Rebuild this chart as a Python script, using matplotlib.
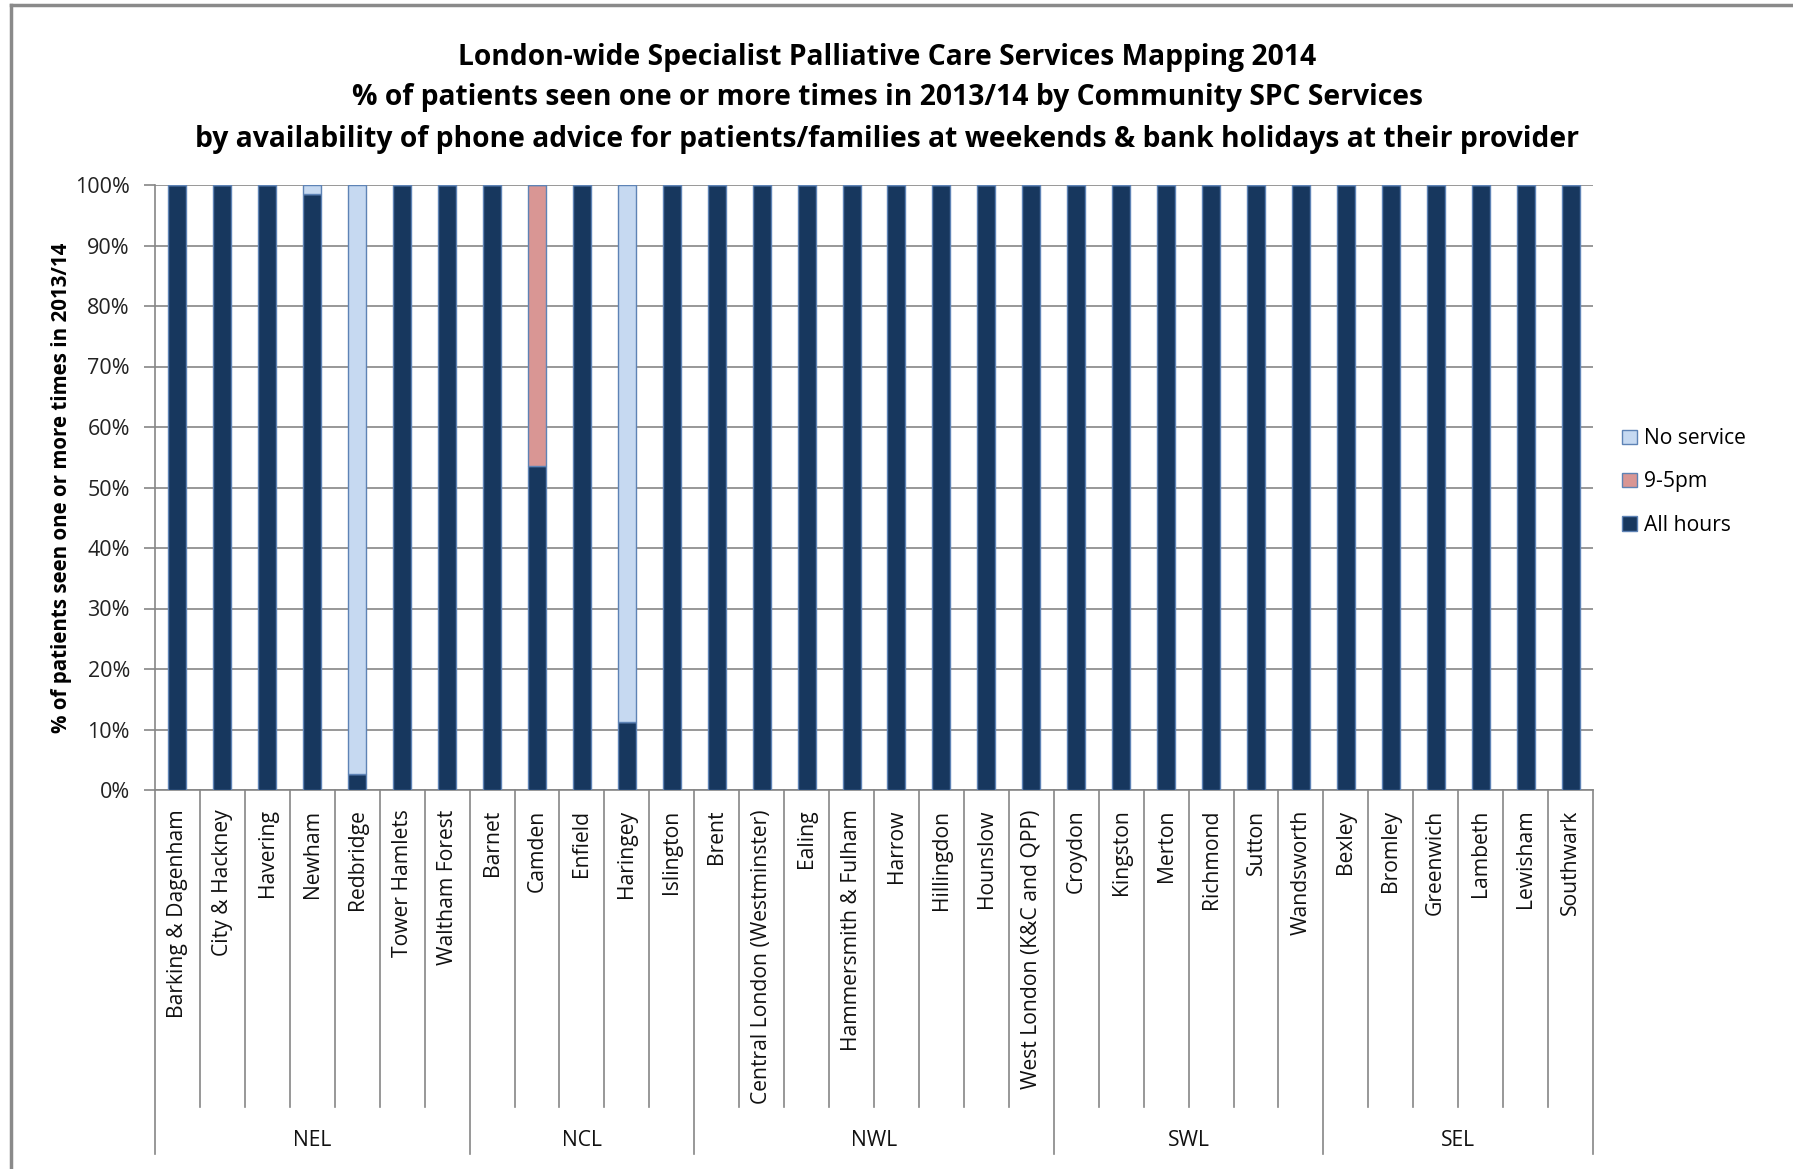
import matplotlib.pyplot as plt
import matplotlib.transforms as mtransforms
from matplotlib.lines import Line2D
from matplotlib.patches import Patch
import numpy as np

plt.rcParams['font.family'] = ['Open Sans', 'DejaVu Sans']

groups = ['NEL', 'NCL', 'NWL', 'SWL', 'SEL']
group_sizes = [7, 5, 8, 6, 6]
areas = [
    'Barking & Dagenham', 'City & Hackney', 'Havering', 'Newham', 'Redbridge',
    'Tower Hamlets', 'Waltham Forest',
    'Barnet', 'Camden', 'Enfield', 'Haringey', 'Islington',
    'Brent', 'Central London (Westminster)', 'Ealing', 'Hammersmith & Fulham',
    'Harrow', 'Hillingdon', 'Hounslow', 'West London (K&C and QPP)',
    'Croydon', 'Kingston', 'Merton', 'Richmond', 'Sutton', 'Wandsworth',
    'Bexley', 'Bromley', 'Greenwich', 'Lambeth', 'Lewisham', 'Southwark',
]
all_hours = [100, 100, 100, 98.5, 2.6, 100, 100,
             100, 53.6, 100, 11.2, 100,
             100, 100, 100, 100, 100, 100, 100, 100,
             100, 100, 100, 100, 100, 100,
             100, 100, 100, 100, 100, 100]
nine_to_five = [0, 0, 0, 0, 0, 0, 0,
                0, 46.4, 0, 0, 0,
                0, 0, 0, 0, 0, 0, 0, 0,
                0, 0, 0, 0, 0, 0,
                0, 0, 0, 0, 0, 0]
no_service = [0, 0, 0, 1.5, 97.4, 0, 0,
              0, 0, 0, 88.8, 0,
              0, 0, 0, 0, 0, 0, 0, 0,
              0, 0, 0, 0, 0, 0,
              0, 0, 0, 0, 0, 0]

c_all = '#17375E'
c_95 = '#D99694'
c_none = '#C6D9F1'
edge = '#5E83B5'
grey = '#868686'


def main():
    fig = plt.figure(figsize=(17.93, 11.69), dpi=100)
    ax = fig.add_axes([155 / 1793, 1 - 790 / 1169, 1438 / 1793, 605 / 1169])

    x = np.arange(len(areas))
    a = np.array(all_hours)
    b = np.array(nine_to_five)
    c = np.array(no_service)
    w = 0.4
    ax.bar(x, a, w, color=c_all, edgecolor=edge, linewidth=1, zorder=3)
    ax.bar(x, b, w, bottom=a, color=c_95, edgecolor=edge, linewidth=1, zorder=3)
    ax.bar(x, c, w, bottom=a + b, color=c_none, edgecolor=edge, linewidth=1, zorder=3)

    ax.set_xlim(-0.5, len(areas) - 0.5)
    ax.set_ylim(0, 100)
    ax.set_yticks(np.arange(0, 101, 10))
    ax.set_yticklabels(['%d%%' % v for v in range(0, 101, 10)], fontsize=15.5, color='#222222')
    ax.yaxis.grid(True, color=grey, linewidth=1.2, zorder=0)
    ax.tick_params(axis='y', length=8, color=grey, width=1.2, pad=10)

    ax.set_xticks(x)
    ax.set_xticklabels(areas, rotation=90, va='top', ha='center', fontsize=15.2, color='#111111')
    ax.tick_params(axis='x', length=0, pad=14)

    for s in ['top', 'right']:
        ax.spines[s].set_visible(False)
    ax.spines['left'].set_color(grey)
    ax.spines['bottom'].set_color(grey)
    ax.spines['left'].set_linewidth(1.2)
    ax.spines['bottom'].set_linewidth(1.2)

    # category / group separators below the axis
    trans = mtransforms.blended_transform_factory(ax.transData, ax.transAxes)
    cat_depth = -317 / 605
    grp_depth = -364 / 605
    bounds = np.cumsum([0] + group_sizes) - 0.5
    for i in range(len(areas) + 1):
        xb = i - 0.5
        depth = grp_depth if xb in bounds else cat_depth
        ax.add_line(Line2D([xb, xb], [0, depth], transform=trans, color=grey,
                           linewidth=1.2, clip_on=False))
    for g, lo, hi in zip(groups, bounds[:-1], bounds[1:]):
        ax.text((lo + hi) / 2, -350 / 605, g, transform=trans, ha='center',
                va='center', fontsize=15.2, color='#111111')

    ax.set_ylabel('% of patients seen one or more times in 2013/14', fontsize=14.8,
                  fontweight='bold')
    ax.yaxis.set_label_coords(-83 / 1438, 0.5)

    title_lines = [
        'London-wide Specialist Palliative Care Services Mapping 2014',
        '% of patients seen one or more times in 2013/14 by Community SPC Services',
        'by availability of phone advice for patients/families at weekends & bank holidays at their provider',
    ]
    for line, yy in zip(title_lines, [57, 98, 140]):
        fig.text(887 / 1793, 1 - yy / 1169, line, ha='center', va='center',
                 fontsize=20.3, fontweight='bold')

    handles = [Patch(facecolor=c_none, edgecolor=edge, label='No service'),
               Patch(facecolor=c_95, edgecolor=edge, label='9-5pm'),
               Patch(facecolor=c_all, edgecolor=edge, label='All hours')]
    fig.legend(handles=handles, loc='center left', bbox_to_anchor=(1603 / 1793, 1 - 482 / 1169),
               frameon=False, fontsize=15.2, handlelength=0.7, handleheight=0.7,
               handletextpad=0.35, labelspacing=1.05)

    # outer frame lines (top and left)
    fig.add_artist(Line2D([11 / 1793, 1], [1 - 5 / 1169, 1 - 5 / 1169], transform=fig.transFigure,
                          color='#8a8a8a', linewidth=2.5))
    fig.add_artist(Line2D([11 / 1793, 11 / 1793], [0, 1 - 5 / 1169], transform=fig.transFigure,
                          color='#8a8a8a', linewidth=2.5))

    fig.savefig('out.png', dpi=100)


if __name__ == "__main__":
    main()
